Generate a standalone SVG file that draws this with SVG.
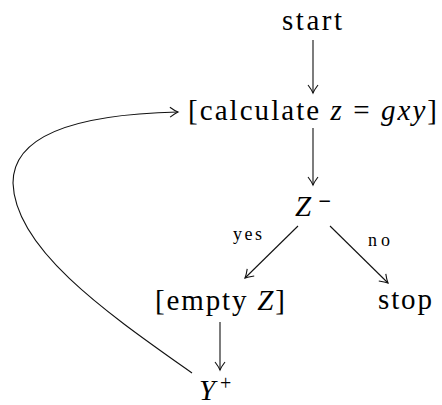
<svg xmlns="http://www.w3.org/2000/svg" width="442" height="405" viewBox="0 0 442 405">
<style>
.c{fill:none;stroke:#111;stroke-width:1.1}
</style>
<defs>
<marker id="ah" markerUnits="userSpaceOnUse" markerWidth="14" markerHeight="14" viewBox="-10 -7 12 14" refX="0" refY="0" orient="auto">
<path d="M-8,-5 Q-3,-1.2 0,0 Q-3,1.2 -8,5" fill="none" stroke="#111" stroke-width="1.1"/>
</marker>
</defs>
<g id="connectors">
<path class="c" d="M313,40 V93" marker-end="url(#ah)"/>
<path class="c" d="M313,128 V185" marker-end="url(#ah)"/>
<path class="c" d="M298,226 L245,278" marker-end="url(#ah)"/>
<path class="c" d="M330,226 L388,283" marker-end="url(#ah)"/>
<path class="c" d="M220,322 V370" marker-end="url(#ah)"/>
<path class="c" d="M192,373 C110,315 15,250 13,183 C13,130 90,114 178,112" marker-end="url(#ah)"/>
<text font-family="'Liberation Serif', serif" font-size="18" x="233" y="240" textLength="29">yes</text>
<text font-family="'Liberation Serif', serif" font-size="18" x="368" y="246" textLength="22">no</text>
</g>
<g id="start"><text font-family="'Liberation Serif', serif" font-size="29" x="282" y="30" textLength="60">start</text></g>
<g id="calc"><text font-family="'Liberation Serif', serif" font-size="29" x="188" y="120" textLength="249">[calculate <tspan font-style="italic">z</tspan> = <tspan font-style="italic">gxy</tspan>]</text></g>
<g id="zminus"><text font-family="'Liberation Serif', serif" font-size="29" font-style="italic" x="295" y="216">Z</text><text font-family="'Liberation Serif', serif" font-size="20" transform="translate(318,206) scale(2,1)">-</text></g>
<g id="empty"><text font-family="'Liberation Serif', serif" font-size="29" x="155" y="310" textLength="130">[empty <tspan font-style="italic">Z</tspan>]</text></g>
<g id="stop"><text font-family="'Liberation Serif', serif" font-size="29" x="378" y="309" textLength="54">stop</text></g>
<g id="yplus"><text font-family="'Liberation Serif', serif" font-size="29" font-style="italic" x="199" y="400">Y</text><text font-family="'Liberation Serif', serif" font-size="20" x="220" y="390">+</text></g>
</svg>
